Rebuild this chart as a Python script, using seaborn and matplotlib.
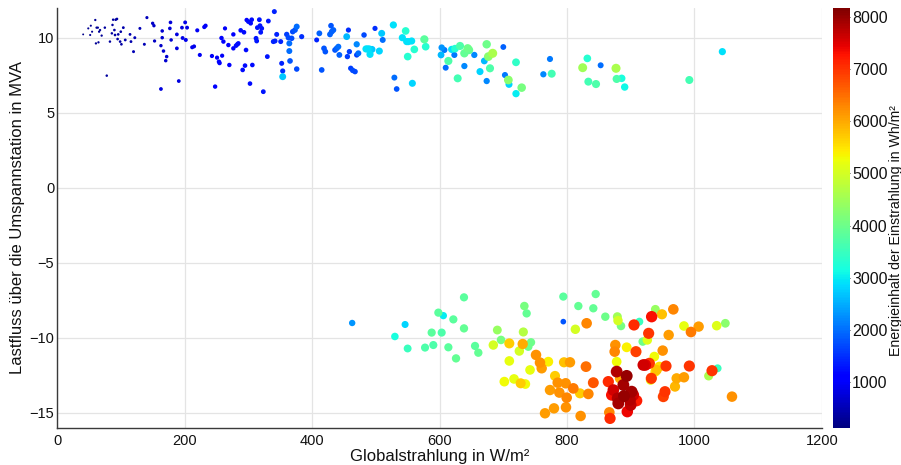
import matplotlib
matplotlib.use("Agg")
import matplotlib.pyplot as plt
import numpy as np
import pandas as pd
import seaborn as sns
from matplotlib.colors import Normalize
from matplotlib.cm import ScalarMappable

# Global irradiance (W/m²), load flow over the substation (MVA), and
# energy content of the irradiation (Wh/m²) per measurement.
# Upper group: load flow out of the grid (positive).
glob_pos = [41, 49, 52, 53, 55, 60, 61, 62, 64, 65, 66, 67.5, 70, 75, 78, 83, 86, 87, 88,
            90, 91, 92, 94, 95, 96, 99, 100, 101, 104, 107, 114.5, 116, 120, 122, 130, 137,
            141, 150, 152, 153, 163, 163, 165, 165, 167, 170.5, 172, 177, 178, 179, 188, 188,
            191, 196, 197, 201, 202, 204, 212, 215, 220, 224, 231, 233, 243, 248, 251, 254,
            255, 259, 258, 261, 263.5,
            268.8, 270.3, 276.6, 276.6, 280.8, 282.9, 284.4, 288.1, 291.2, 293.3, 294.9, 296.5,
            297.5, 300.1, 302.7, 303.8, 305.4, 306.4, 312.2, 313.2, 314.3, 317.4, 318.4, 319.5,
            321.1, 323.6, 329.9, 331.5, 339.3, 340.9, 342, 344.6, 350.9, 352.4, 354, 354,
            360.3, 362.9, 364.4, 364.4, 365.5, 368.1, 369.7, 373.3, 376, 376, 383.8,
            407.3, 411.5, 415.2, 418.8, 420.9, 428.2, 429.8, 430.9, 433.5, 436.1, 438.7, 441.3,
            442.9, 454.4, 455.5, 457.1, 458.6, 460.7, 463.8, 467.5, 470.1, 470.1, 472.7, 481.6,
            484.7, 487.3, 489.9, 491, 494.1, 498.8, 505.6, 509.3, 510.9,
            527.6, 529.2, 532.8, 541.7, 546.9, 548.5, 550.1, 551.1, 556.3, 557.4, 560.5, 576.2,
            578.3, 602.4, 603.4, 607.6, 609.7, 613.9, 619.1, 623.3, 624.3, 628.5, 632.2, 639,
            639, 644.2, 646.3, 654.6, 663.5, 670.3, 674, 674, 676.6, 679.2, 683.4, 700.1, 702.7,
            708, 709, 720, 720, 728.9, 762.9, 773.3, 776,
            824.6, 831.9, 833.5, 845.5, 852.8, 876.9, 877.9, 885.8, 890.5, 991.9, 1043.7]
flow_pos = [10.24, 10.64, 10.2, 10.82, 10.42, 11.2, 9.64, 10.69, 10.69, 9.71, 10.42, 10.53, 10.16,
            10.69, 7.49, 9.76, 10.31, 10.87, 11.22, 10.53, 10.2, 11.22, 11.27, 9.93, 10.24, 9.76,
            10.42, 9.58, 10.69, 9.87, 10.24, 9.76, 9.09, 10.02, 10.64, 9.58, 11.36, 10.98, 10.82,
            9.8, 6.6, 9.49, 10.47, 10.02, 9.13, 8.49, 8.76, 10.64, 11.04, 9.87, 9.31, 10.24, 7.13,
            10.69, 10.0, 11.04, 9.87, 10.69, 9.38, 9.44, 10.51, 8.87, 10.73, 10.82, 8.8, 6.76,
            8.69, 8.42, 8.33, 8.82, 10.0, 9.76, 10.64,
            9.53, 8.2, 10.24, 9.31, 9.49, 9.58, 9.64, 10.51, 7.87, 10.38, 8.16, 9.2, 11.2, 11.09,
            6.96, 10.98, 11.22, 8.2, 9.98, 9.8, 10.69, 11.22, 10.82, 10.38, 10.64, 6.42, 8.76,
            11.13, 9.76, 11.76, 9.8, 10.24, 9.76, 8.31, 7.8, 7.42, 10.24, 10.02, 9.64, 9.13,
            8.47, 9.98, 10.42, 10.53, 10.76, 7.93, 10.09,
            9.87, 10.31, 7.87, 9.31, 9.09, 10.24, 10.82, 10.42, 10.53, 9.2, 9.31, 9.42, 8.87,
            10.09, 8.76, 10.53, 9.09, 7.98, 7.84, 7.76, 8.87, 9.58, 8.98, 10.2, 9.27, 9.27,
            9.27, 8.91, 9.24, 10.64, 9.13, 10.31, 9.87,
            10.87, 7.36, 6.6, 10.02, 10.47, 9.76, 8.76, 9.76, 9.8, 6.98, 9.24, 9.91, 9.42, 8.87,
            9.36, 9.2, 8.02, 8.47, 9.24, 8.87, 9.29, 7.31, 9.47, 8.13, 8.98, 9.31, 9.2, 8.87,
            7.76, 8.47, 9.58, 7.13, 8.76, 7.98, 8.98, 9.4, 7.53, 7.2, 6.91, 8.38, 6.29, 6.69,
            7.58, 8.6, 7.62,
            8.02, 8.64, 7.09, 6.93, 8.18, 7.98, 7.27, 7.31, 6.73, 7.2, 9.09]
energy_pos = [200, 250, 250, 250, 250, 300, 300, 300, 300, 300, 300, 300, 300, 350, 350, 350, 350,
              350, 350, 400, 400, 400, 400, 400, 400, 400, 400, 400, 450, 450, 450, 450, 500, 500,
              500, 500, 550, 650, 650, 600, 800, 650, 700, 700, 700, 700, 700, 750, 750, 700, 800,
              800, 800, 800, 850, 850, 900, 850, 900, 900, 950, 950, 1000, 1000, 1000, 1100, 1000,
              1100, 1100, 1000, 1100, 1100, 1000,
              1100, 1100, 1100, 1100, 1200, 1200, 1200, 1200, 1200, 1200, 1200, 1200, 1100, 1200,
              1200, 1200, 1200, 1200, 1300, 1300, 1300, 1300, 1300, 1300, 1300, 1300, 1300, 1300,
              1400, 1400, 1400, 1400, 1400, 1400, 1500, 2700, 1600, 1700, 2000, 2000, 1800, 1700,
              1700, 1800, 2000, 1700, 1500,
              1400, 1900, 1800, 1800, 1800, 1900, 1800, 1900, 1900, 1800, 1900, 2000, 1900, 2600,
              1600, 1500, 1600, 1600, 1700, 1700, 1600, 2200, 2000, 1700, 2900, 2900, 2800, 2900,
              2700, 1500, 2800, 2700, 2000,
              2900, 2000, 1800, 2900, 3300, 2900, 3300, 2900, 2900, 2800, 3300, 3800, 3300, 2600,
              2300, 2100, 2000, 3700, 2900, 2100, 3300, 3600, 3700, 2200, 3900, 4000, 3900, 2200,
              2800, 2600, 4000, 2200, 4300, 3700, 4600, 1900, 2100, 4300, 2800, 3400, 3000, 4100,
              2200, 2100, 3600,
              4500, 3300, 3600, 3700, 2000, 4600, 3700, 3200, 3100, 3600, 2900]

# Lower group: load flow into the grid (negative).
glob_neg = [463, 530, 546, 550,
            577.3, 587.7, 590.3, 598.2, 603.4, 606, 613.9, 621.7, 625.9, 638.4, 638.4, 655.7,
            660.9, 684.4, 690.7, 696.5, 701.7, 709.5, 709.5, 716.9, 725.2, 727.3, 730.5, 731.5,
            733.1, 734.6, 736.7, 739.3, 742, 743.5, 751.4, 757.6, 760.3, 770.7, 765.5, 773.3,
            779.6, 781.2, 785.4, 788, 794.2, 794.2, 795.3, 797.9, 798.4, 799.5, 804.7, 809.9,
            813.1, 817.8, 820.4, 821.4, 829.8, 830.8, 833.5, 841.3, 841.3, 845, 860.1, 864.8,
            866.4, 867.5, 870.1, 872.7, 874.8, 875.8, 877.9, 879, 880, 877.9, 879.5, 880.5,
            883.1, 884.7, 888.4, 889.4, 893.6, 893.6, 894.6, 898.8, 899.9, 901.4, 904, 905.1,
            908.2, 909.3, 913.5, 918.7, 919.7, 922.9, 926, 928.1, 929.2, 932.8, 932.3, 931.2,
            937, 938.6, 938.6, 940.7, 944.8, 949, 950.1, 951.1, 953.7, 955.3, 959.5, 966.8,
            969.4, 972, 983.5, 983.5, 991.9, 994.5, 1006.5, 1022.2, 1027.5, 1036.3, 1034.8,
            1048.4, 1058.8]
flow_neg = [-9.0, -9.9, -9.1, -10.7,
            -10.64, -9.64, -10.47, -8.31, -9.64, -8.51, -10.62, -8.76, -11.36, -7.29, -9.36,
            -10.53, -10.98, -10.47, -9.47, -10.13, -12.91, -10.36, -11.53, -12.73, -10.87,
            -13.02, -10.4, -9.6, -7.87, -13.07, -8.36, -10.58, -12.13, -10.29, -11.13, -11.64,
            -12.02, -11.58, -15.02, -13.47, -14.69, -12.53, -12.98, -13.64, -7.24, -8.91,
            -11.62, -13.02, -14.62, -13.98, -11.62, -13.36, -9.42, -7.87, -13.69, -15.2,
            -11.91, -9.02, -13.73, -8.02, -12.98, -7.07, -8.58, -12.91, -14.96, -15.36, -13.8,
            -13.47, -10.91, -10.47, -11.58, -8.58, -8.84, -12.24, -14.02, -14.36, -12.69, -9.2,
            -13.13, -13.87, -10.62, -12.53, -14.91, -14.13, -14.47, -13.58, -13.8, -9.13,
            -10.91, -14.18, -8.91, -10.24, -11.8, -11.8, -10.13, -9.69, -11.69, -8.58, -12.69,
            -12.8, -11.24, -8.09, -12.24, -12.13, -11.91, -8.42, -10.84, -13.91, -13.58, -11.87,
            -9.8, -8.09, -13.24, -12.69, -9.2, -12.62, -11.87, -9.6, -9.24, -12.53, -12.18,
            -12.02, -9.18, -9.02, -13.91]
energy_neg = [2300, 3200, 2800, 3500,
              3700, 3800, 3700, 3800, 3700, 3000, 3800, 3800, 3900, 3800, 3900, 3800, 3900, 5000,
              4400, 4100, 5300, 5700, 5200, 5200, 5000, 5700, 6000, 4700, 4100, 5300, 3900, 4000,
              5200, 4000, 6200, 6200, 6100, 5400, 6100, 6100, 6100, 5700, 6200, 6200, 3800, 1800,
              5800, 6200, 6200, 6300, 6100, 6400, 5000, 3900, 5700, 6200, 6500, 6300, 6300, 3900,
              6700, 3900, 4000, 7100, 6300, 7100, 7300, 7600, 6300, 6200, 5300, 4500, 5000, 7800,
              7800, 7900, 6000, 4100, 7900, 8000, 5400, 8000, 7400, 7800, 7700, 7900, 7600, 7100,
              6900, 7200, 3500, 4000, 7600, 7500, 5100, 7000, 7000, 7300, 7000, 5200, 5300, 4400,
              5500, 5800, 5500, 5800, 6200, 6900, 7000, 7000, 6100, 6300, 5900, 6000, 5200, 6100,
              7000, 6400, 6100, 4600, 7000, 3500, 5100, 4300, 6200]

x_ticks = [0, 200, 400, 600, 800, 1000, 1200]
y_ticks = [-15, -10, -5, 0, 5, 10]
cbar_ticks = [1000, 2000, 3000, 4000, 5000, 6000, 7000, 8000]
e_min, e_max = 120, 8170

df = pd.DataFrame({
    "Globalstrahlung": glob_pos + glob_neg,
    "Lastfluss": flow_pos + flow_neg,
    "Energie": energy_pos + energy_neg,
}).sort_values("Energie", kind="stable")

sns.set_style("white")
plt.rcParams["font.family"] = ["Liberation Sans", "DejaVu Sans"]

jet = matplotlib.colormaps["jet"]

fig = plt.figure(figsize=(9.01, 4.65), dpi=100)
ax = fig.add_axes([0.0633, 0.0796, 0.849, 0.9032])
cax = fig.add_axes([0.9245, 0.0796, 0.0189, 0.9032])

# Marker area grows with the energy content
sns.scatterplot(data=df, x="Globalstrahlung", y="Lastfluss", hue="Energie", size="Energie",
                palette=jet, hue_norm=Normalize(e_min, e_max), sizes=(e_min / 108, e_max / 108),
                size_norm=(e_min, e_max), linewidth=0, legend=False, ax=ax, zorder=3)

ax.set_xlim(0, 1200)
ax.set_ylim(-16, 12)
ax.set_xticks(x_ticks)
ax.set_yticks(y_ticks)
ax.grid(True, color="#e4e4e4", linewidth=0.9, zorder=0)
for side in ("top", "right"):
    ax.spines[side].set_visible(False)
for side in ("left", "bottom"):
    ax.spines[side].set_color("#3a3a3a")
    ax.spines[side].set_linewidth(1.0)
ax.tick_params(direction="in", length=5, width=0.9, color="#3a3a3a",
               labelsize=10.5, labelcolor="#111111", pad=4)
ax.tick_params(axis="y", pad=2)

ax.set_xlabel("Globalstrahlung in W/m²", fontsize=12, color="#111111")
ax.set_ylabel("Lastfluss über die Umspannstation in MVA", fontsize=12, color="#111111")
ax.xaxis.set_label_coords(0.5, -0.05)
ax.yaxis.set_label_coords(-0.042, 0.5)

sm = ScalarMappable(norm=Normalize(e_min, e_max), cmap=jet)
cb = fig.colorbar(sm, cax=cax)
cb.outline.set_visible(False)
cb.set_ticks(cbar_ticks)
cax.tick_params(direction="in", length=3, width=0.7, color="#333333",
                labelsize=11.5, labelcolor="#111111", pad=1.5)
fig.text(0.994, 0.505, "Energieinhalt der Einstrahlung in Wh/m²", rotation=90,
         ha="center", va="center", fontsize=10.2, color="#111111")

fig.savefig("out.png", dpi=100)
